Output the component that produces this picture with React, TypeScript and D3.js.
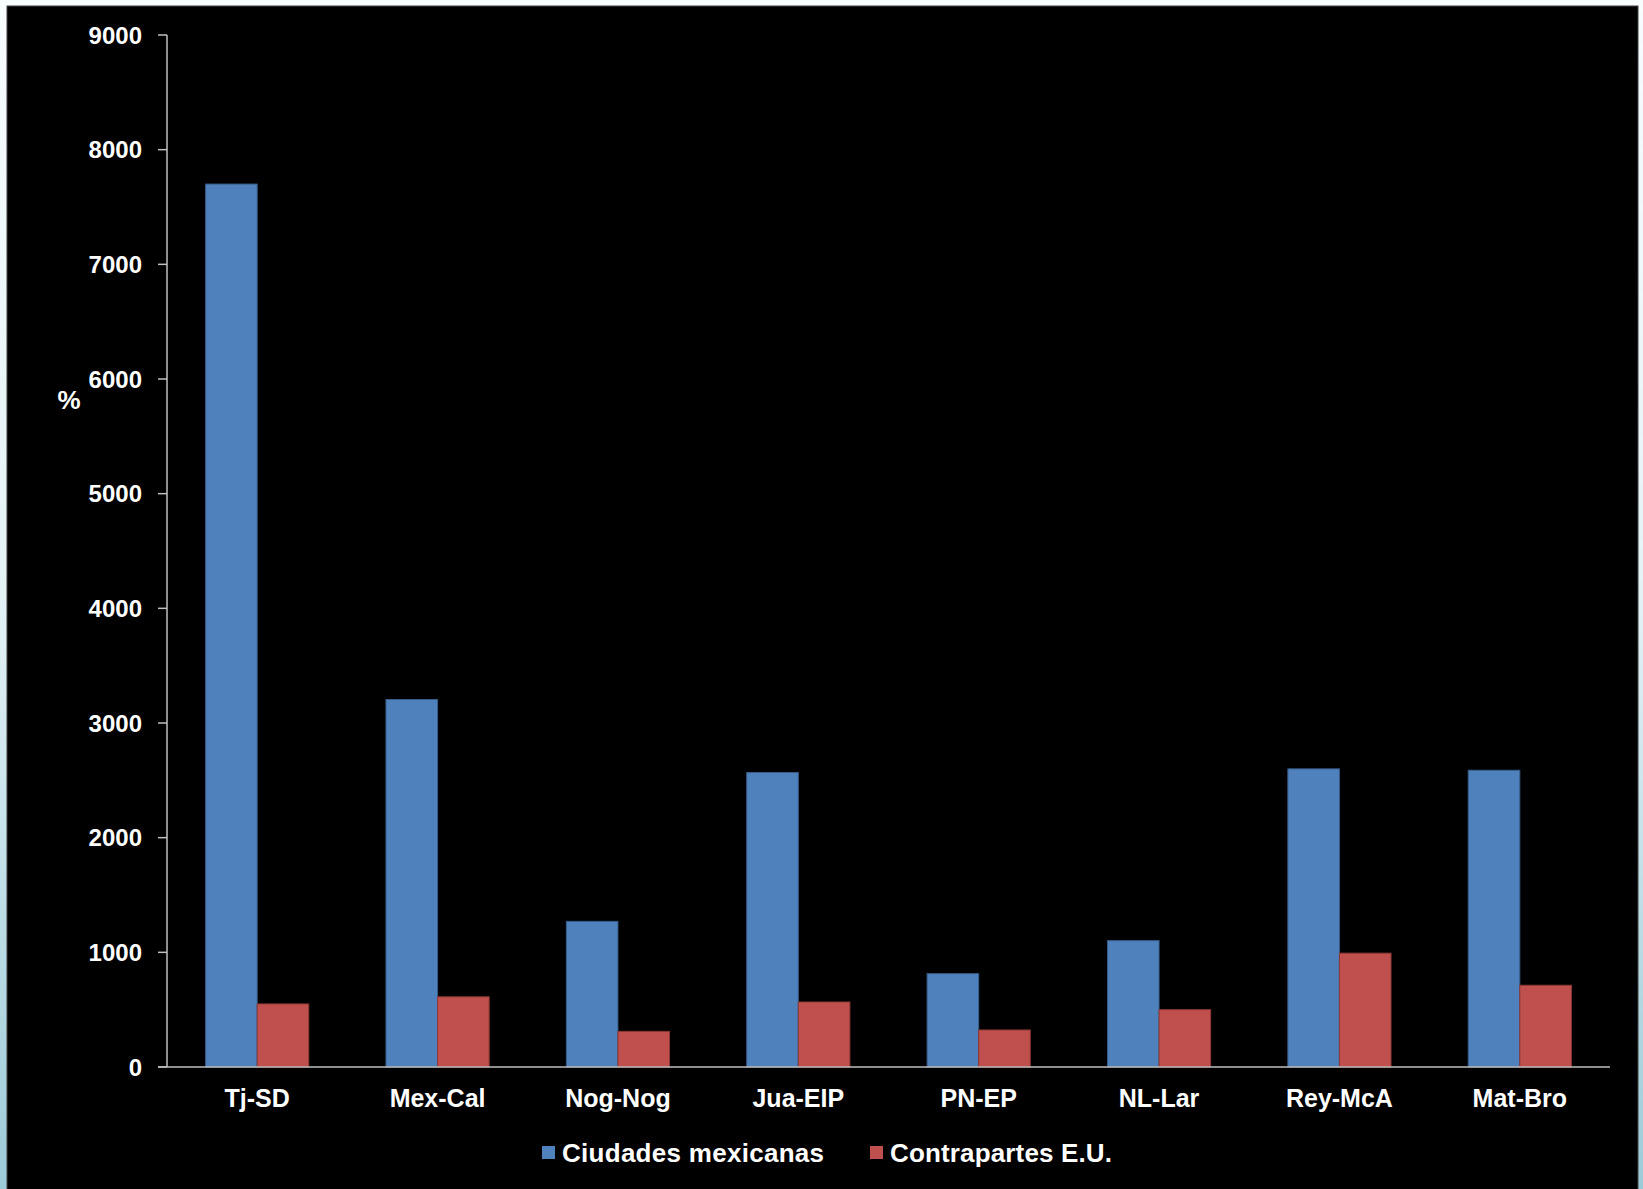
import * as d3 from 'd3'

const categories = ['Tj-SD', 'Mex-Cal', 'Nog-Nog', 'Jua-EIP', 'PN-EP', 'NL-Lar', 'Rey-McA', 'Mat-Bro']
const ciudadesMexicanas = [7700, 3205, 1270, 2568, 814, 1102, 2600, 2588]
const contrapartesEU = [550, 612, 311, 567, 323, 500, 993, 713]
const seriesNames = ['Ciudades mexicanas', 'Contrapartes E.U.']
const yTicks = [0, 1000, 2000, 3000, 4000, 5000, 6000, 7000, 8000, 9000]

const W = 1643
const H = 1189
const fill = ['#4f81bd', '#c0504d']
const stroke = ['#385d8a', '#8c3836']
const font = '"Liberation Sans", Arial, sans-serif'

// legend placement (square left edge, text width)
const legendX = [542, 870]
const legendTextWidth = [262, 222]

export default function App() {
  const x = d3
    .scaleBand()
    .domain(categories)
    .range([167, 1610])
    .paddingInner(0.428)
    .paddingOuter(0.214)
  const xs = d3.scaleBand().domain(seriesNames).range([0, x.bandwidth()])
  const y = d3.scaleLinear().domain([0, 9000]).range([1067, 35])

  const series = [ciudadesMexicanas, contrapartesEU]

  return (
    <div style={{ position: 'fixed', left: 0, top: 0, width: W, height: H }}>
      <svg width={W} height={H} style={{ display: 'block' }}>
        <defs>
          <linearGradient id="bg" x1="0" y1="0" x2="0" y2="1">
            <stop offset="0" stopColor="#f7fcfd" />
            <stop offset="0.5" stopColor="#e4f2f6" />
            <stop offset="1" stopColor="#9ccbd8" />
          </linearGradient>
        </defs>
        <rect x={0} y={0} width={W} height={H} fill="url(#bg)" />
        <rect x={7} y={6} width={1631} height={H} fill="#000" stroke="#444" strokeWidth={1} />

        {/* y axis */}
        <line x1={167} x2={167} y1={y(9000)} y2={y(0)} stroke="#bfbfbf" strokeWidth={1.5} />
        {yTicks.map(t => (
          <g key={t}>
            <line x1={158} x2={167} y1={y(t)} y2={y(t)} stroke="#bfbfbf" strokeWidth={1.5} />
            <text
              x={142}
              y={y(t)}
              dy="0.36em"
              textAnchor="end"
              fill="#fff"
              fontFamily={font}
              fontWeight="bold"
              fontSize={24}
            >
              {t}
            </text>
          </g>
        ))}
        <text x={69} y={409} textAnchor="middle" fill="#fff" fontFamily={font} fontWeight="bold" fontSize={26}>
          %
        </text>

        {/* bars */}
        {categories.map((c, i) => (
          <g key={c}>
            {seriesNames.map((s, j) => (
              <rect
                key={s}
                x={x(c)! + xs(s)!}
                y={y(series[j][i])}
                width={xs.bandwidth()}
                height={y(0) - y(series[j][i])}
                fill={fill[j]}
                stroke={stroke[j]}
                strokeWidth={1}
              />
            ))}
            <text
              x={x(c)! + x.bandwidth() / 2}
              y={1107}
              textAnchor="middle"
              fill="#fff"
              fontFamily={font}
              fontWeight="bold"
              fontSize={25}
            >
              {c}
            </text>
          </g>
        ))}

        {/* x axis */}
        <line x1={158} x2={1610} y1={y(0)} y2={y(0)} stroke="#bfbfbf" strokeWidth={1.5} />

        {/* legend */}
        {seriesNames.map((s, j) => (
          <g key={s}>
            <rect x={legendX[j]} y={1146} width={13} height={13} fill={fill[j]} />
            <text
              x={legendX[j] + 20}
              y={1162}
              fill="#fff"
              fontFamily={font}
              fontWeight="bold"
              fontSize={26}
              textLength={legendTextWidth[j]}
              lengthAdjust="spacing"
            >
              {s}
            </text>
          </g>
        ))}
      </svg>
    </div>
  )
}
